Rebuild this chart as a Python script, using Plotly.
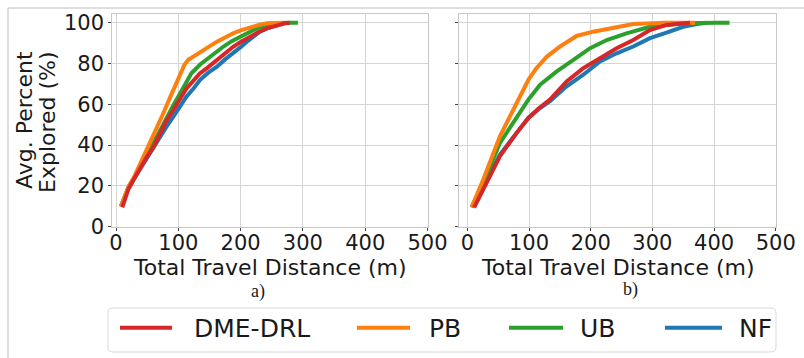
import plotly.graph_objects as go

W, H = 804, 358

# ---------------- data ----------------
series_names = ["DME-DRL", "PB", "UB", "NF"]
series_colors = {"DME-DRL": "#d62728", "PB": "#ff7f0e", "UB": "#2ca02c", "NF": "#1f77b4"}

# panel a)
a_nf_x = [8, 20, 30, 40, 50, 60, 70, 80, 92, 103, 113, 125, 135, 148, 162, 175, 188, 200, 210, 220, 231, 245, 258, 271]
a_nf_y = [10, 19, 24, 29, 34, 39, 44, 48.5, 54, 59, 63.7, 68, 72, 75.5, 78.4, 82, 85, 88, 90.7, 93, 95.6, 97.5, 99, 100]
a_drl_x = [10, 20, 30, 40, 50, 60, 70, 81, 92, 103, 113, 124, 135, 147, 159, 173, 188, 200, 215, 228, 242, 258, 270, 279]
a_drl_y = [9.5, 18.5, 24, 29.5, 34.5, 39, 45, 52, 57.2, 63, 67.8, 71.5, 75.2, 78, 81, 84.5, 88.2, 90.5, 93.1, 95.3, 97.2, 98.8, 99.6, 100]
a_ub_x = [8, 20, 30, 40, 50, 60, 70, 76, 81, 92, 103, 112, 121, 135, 151, 162, 172, 185, 199, 212, 226, 240, 258, 275, 292]
a_ub_y = [10, 19.5, 24.5, 29.5, 35, 41, 47, 50.5, 53, 59.5, 65.4, 70.5, 75.2, 79.5, 83.3, 86, 88.2, 90.8, 93.1, 95.3, 97.2, 98.8, 99.7, 100, 100]
a_pb_x = [8, 20, 30, 44, 55, 65, 75, 87, 95, 104, 110, 116, 125, 135, 148, 162, 175, 188, 200, 215, 228, 242, 256, 268]
a_pb_y = [10, 19.5, 25, 34.3, 41, 48, 55, 63.5, 69.5, 75.5, 79.5, 81.8, 83.5, 85, 88, 90.7, 93, 94.8, 96.2, 97.7, 98.8, 99.7, 100, 100]

# panel b)
b_nf_x = [7, 26, 53, 80, 99, 115, 134, 161, 188, 215, 242, 269, 296, 323, 350, 372, 388]
b_nf_y = [9.5, 20, 35.4, 46, 53.3, 57.5, 61.5, 68.8, 74.5, 81, 85, 88.3, 92.4, 95.1, 98, 99.3, 100]
b_drl_x = [11, 26, 53, 80, 99, 115, 134, 161, 188, 215, 242, 269, 296, 323, 345, 361]
b_drl_y = [9.4, 18.4, 34.6, 46, 53.3, 57.8, 62.3, 71.2, 77.7, 82.6, 87.5, 91.5, 96.4, 98.9, 99.7, 100]
b_ub_x = [7, 26, 53, 80, 99, 118, 145, 172, 199, 226, 258, 296, 350, 404, 425]
b_ub_y = [9.5, 21.6, 41.1, 53.3, 62.3, 69.6, 76.1, 81.8, 87.5, 91.5, 94.8, 98, 99.7, 100, 100]
b_pb_x = [7, 26, 53, 75, 99, 112, 129, 150, 177, 204, 231, 269, 323, 369]
b_pb_y = [9.5, 23.3, 44.4, 57.4, 72, 77.7, 83.4, 88.3, 93.5, 95.6, 97.2, 99.3, 100, 100]

x_ticks = [0, 100, 200, 300, 400, 500]
y_ticks = [0, 20, 40, 60, 80, 100]
x_title = "Total Travel Distance (m)"
y_title_lines = ["Avg. Percent", "Explored (%)"]
captions = ["a)", "b)"]

# ---------------- figure ----------------
FONT = "DejaVu Sans"
TXT = "#1a1a1a"

fig = go.Figure()

panel_a = {"NF": (a_nf_x, a_nf_y), "UB": (a_ub_x, a_ub_y), "PB": (a_pb_x, a_pb_y), "DME-DRL": (a_drl_x, a_drl_y)}
panel_b = {"NF": (b_nf_x, b_nf_y), "UB": (b_ub_x, b_ub_y), "PB": (b_pb_x, b_pb_y), "DME-DRL": (b_drl_x, b_drl_y)}

for name in ["NF", "UB", "PB", "DME-DRL"]:
    xs, ys = panel_a[name]
    fig.add_trace(go.Scatter(x=xs, y=ys, mode="lines", name=name, showlegend=False,
                             line=dict(color=series_colors[name], width=4), xaxis="x", yaxis="y"))
for name in ["NF", "UB", "PB", "DME-DRL"]:
    xs, ys = panel_b[name]
    fig.add_trace(go.Scatter(x=xs, y=ys, mode="lines", name=name, showlegend=False,
                             line=dict(color=series_colors[name], width=4), xaxis="x2", yaxis="y2"))

def px(x):
    return x / W

def py(y):
    return 1 - y / H

axis_common = dict(
    showline=True, mirror=True, linecolor="#c8c8c8", linewidth=1,
    showgrid=True, gridcolor="#d4d4d4", gridwidth=1, zeroline=False,
    ticks="outside", ticklen=3, tickcolor="#444444", tickwidth=1,
    tickfont=dict(family=FONT, size=21, color=TXT), automargin=False,
)

fig.update_layout(
    width=W, height=H, autosize=False,
    margin=dict(l=0, r=0, t=0, b=0, pad=0, autoexpand=False),
    paper_bgcolor="white", plot_bgcolor="white",
    showlegend=False,
    xaxis=dict(domain=[px(112.3), px(427.5)], range=[-6, 500], tickvals=x_ticks, anchor="y",
               ticklabelstandoff=-6, **axis_common),
    yaxis=dict(domain=[py(226.7), py(13.5)], range=[0, 104.5], tickvals=y_ticks, anchor="x", **axis_common),
    xaxis2=dict(domain=[px(459.3), px(775.8)], range=[-13, 500], tickvals=x_ticks, anchor="y2",
                ticklabelstandoff=-6, **axis_common),
    yaxis2=dict(domain=[py(226.7), py(13.5)], range=[0, 104.5], tickvals=y_ticks, anchor="x2",
                showticklabels=False, **axis_common),
)

def note(x, y, text, size, family=FONT, anchor="center", angle=0):
    return dict(x=px(x), y=py(y), xref="paper", yref="paper", text=text, showarrow=False,
                xanchor=anchor, yanchor="middle", textangle=angle,
                font=dict(family=family, size=size, color=TXT))

ann = []
# axis titles
ann.append(note(270, 267, x_title, 22))
ann.append(note(617.5, 267, x_title, 22))
ann.append(note(25, 120, y_title_lines[0], 22, angle=-90))
ann.append(note(48, 122, y_title_lines[1], 22, angle=-90))
# captions
ann.append(note(258, 291, captions[0], 18, family="Liberation Serif"))
ann.append(note(630, 289, captions[1], 18, family="Liberation Serif"))

shapes = []
# figure border (top and left)
shapes.append(dict(type="line", xref="paper", yref="paper", x0=px(8), x1=1, y0=py(8), y1=py(8),
                   line=dict(color="#bdbdbd", width=1)))
shapes.append(dict(type="line", xref="paper", yref="paper", x0=px(8), x1=px(8), y0=py(8), y1=0,
                   line=dict(color="#bdbdbd", width=1)))

# legend box (rounded)
lx0, lx1, ly0, ly1, r = 108, 776, 308, 352, 5
path = (f"M {px(lx0 + r)},{py(ly0)} L {px(lx1 - r)},{py(ly0)} Q {px(lx1)},{py(ly0)} {px(lx1)},{py(ly0 + r)} "
        f"L {px(lx1)},{py(ly1 - r)} Q {px(lx1)},{py(ly1)} {px(lx1 - r)},{py(ly1)} "
        f"L {px(lx0 + r)},{py(ly1)} Q {px(lx0)},{py(ly1)} {px(lx0)},{py(ly1 - r)} "
        f"L {px(lx0)},{py(ly0 + r)} Q {px(lx0)},{py(ly0)} {px(lx0 + r)},{py(ly0)} Z")
shapes.append(dict(type="path", xref="paper", yref="paper", path=path,
                   line=dict(color="#d9d9d9", width=1), fillcolor="white"))

legend_items = [("DME-DRL", 120, 172, 192), ("PB", 357, 410, 427), ("UB", 509, 563, 578), ("NF", 665, 722, 737)]
for name, s0, s1, tx in legend_items:
    shapes.append(dict(type="line", xref="paper", yref="paper", x0=px(s0), x1=px(s1), y0=py(327.7), y1=py(327.7),
                       line=dict(color=series_colors[name], width=4)))
    ann.append(note(tx, 328, name, 25, anchor="left"))

fig.update_layout(annotations=ann, shapes=shapes)

fig.write_html("out.html")
